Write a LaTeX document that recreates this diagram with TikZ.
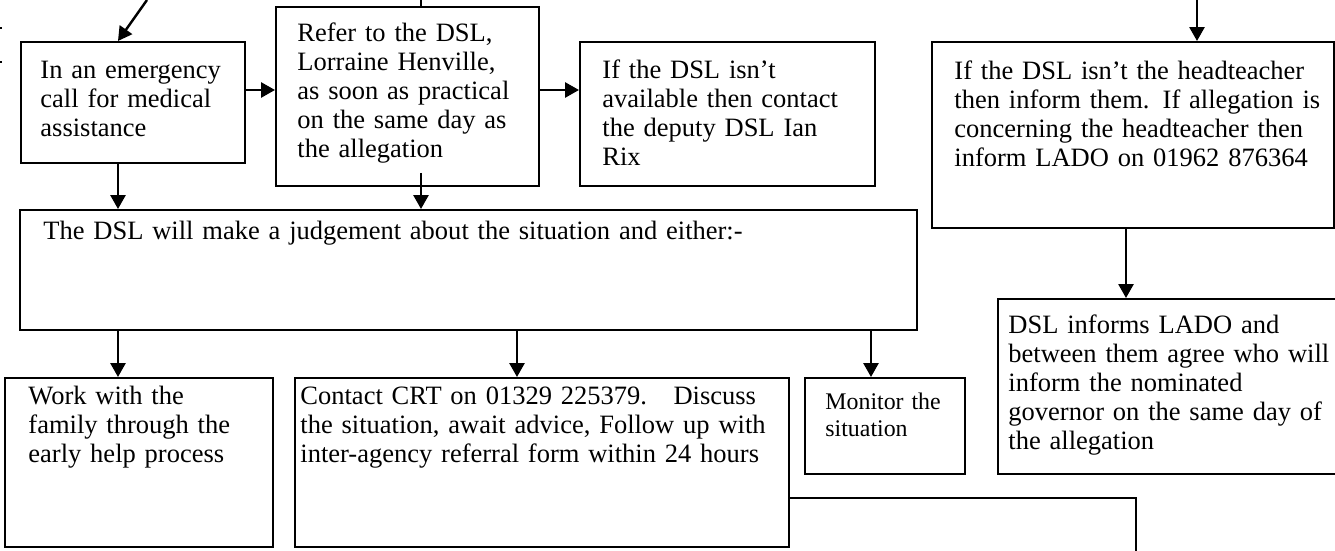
\documentclass[tikz,border=0pt]{standalone}
\usepackage{fontspec}
\setmainfont{Liberation Serif}
\usetikzlibrary{arrows.meta,fit,calc}

\begin{document}
\begin{tikzpicture}[
  x=0.4528pt, y=-0.4528pt,
  box/.style={
    draw,
    line width=0.9pt,
    inner sep=0pt
  },
  txt/.style={
    anchor=base west,
    inner sep=0pt,
    align=left,
    text width=340pt,
    font=\fontsize{12pt}{13.13pt}\selectfont
  },
  small/.style={font=\fontsize{10.8pt}{12.2pt}\selectfont},
  arr/.style={line width=1.1pt, -{Triangle[length=6.3pt,width=6.8pt]}},
  link/.style={line width=1.1pt}
]
\useasboundingbox (0,0) rectangle (1335,551);

% Boxes
\node[box, fit={(21,42) (245,163)}] (emerg) {};
\node[box, fit={(276,7) (539,186)}] (refer) {};
\node[box, fit={(580,42) (875,186)}] (avail) {};
\node[box, fit={(932,42) (1334,228)}] (lado) {};
\node[box, fit={(20,210) (917,330)}] (judge) {};
\node[box, fit={(5,378) (273,547)}] (family) {};
\node[box, fit={(295,378) (789,547)}] (crt) {};
\node[box, fit={(805,378) (965,474)}] (monitor) {};
\node[box, fit={(998,299) (1345,474)}] (nominee) {};

% Texts
\node[txt] (emergtxt) at (40,79) {In an emergency\\call for medical\\assistance};
\node[txt] (refertxt) at (297,42) {Refer to the DSL,\\Lorraine Henville,\\as soon as practical\\on the same day as\\the allegation};
\node[txt] (availtxt) at (602,79) {If the DSL isn’t\\available then contact\\the deputy DSL Ian\\Rix};
\node[txt] (ladotxt) at (954,80) {If the DSL isn’t the headteacher\\then inform them. If allegation is\\concerning the headteacher then\\inform LADO on 01962 876364};
\node[txt] (judgetxt) at (43,240) {The DSL will make a judgement about the situation and either:-};
\node[txt] (familytxt) at (28,405) {Work with the\\family through the\\early help process};
\node[txt] (crttxt) at (300,405) {Contact CRT on 01329 225379.\ \ \ Discuss\\the situation, await advice, Follow up with\\inter-agency referral form within 24 hours};
\node[txt, small] (monitortxt) at (825,410) {Monitor the\\situation};
\node[txt] (nomineetxt) at (1008,334) {DSL informs LADO and\\between them agree who will\\inform the nominated\\governor on the same day of\\the allegation};

% Connector positions
\coordinate (rowmid) at (0,90);
\coordinate (topleft) at (147,0);
\coordinate (leftcol) at (118,0);
\coordinate (topmid) at (421,0);
\coordinate (referout) at (421,173);
\coordinate (crtcol) at (517,0);
\coordinate (moncol) at (871,0);
\coordinate (ladocol) at (1126,0);
\coordinate (topright) at (1197,0);
\coordinate (crtbend) at (1136,498);
\coordinate (crtend) at (1136,560);

% Connectors
\draw[arr] (topleft) -- (emerg.north -| leftcol);
\draw[link] (topmid) -- (refer.north -| topmid);
\draw[arr] (topright) -- (lado.north -| topright);
\draw[arr] (emerg.east |- rowmid) -- (refer.west |- rowmid);
\draw[arr] (refer.east |- rowmid) -- (avail.west |- rowmid);
\draw[arr] (leftcol |- emerg.south) -- (leftcol |- judge.north);
\draw[arr] (referout) -- (referout |- judge.north);
\draw[arr] (leftcol |- judge.south) -- (leftcol |- family.north);
\draw[arr] (crtcol |- judge.south) -- (crtcol |- crt.north);
\draw[arr] (moncol |- judge.south) -- (moncol |- monitor.north);
\draw[arr] (ladocol |- lado.south) -- (ladocol |- nominee.north);
\draw[link] (crt.east |- crtbend) -- (crtbend) -- (crtend);

% Edge marks
\draw[line width=0.6pt] (0,28) -- (2,28);
\draw[line width=0.6pt] (0,62) -- (2,62);

\end{tikzpicture}
\end{document}
